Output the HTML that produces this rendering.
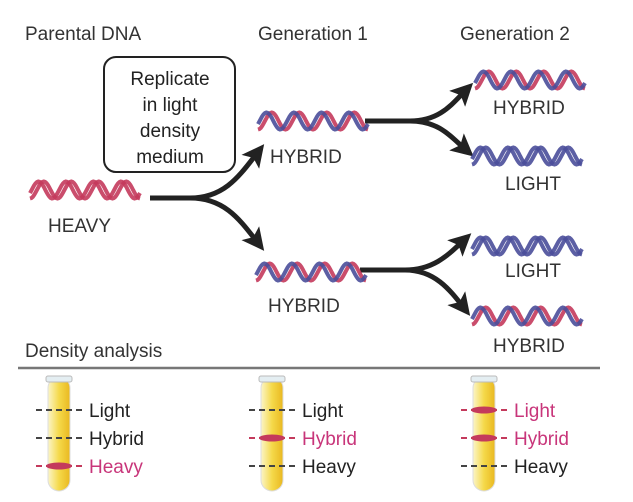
<!DOCTYPE html>
<html><head><meta charset="utf-8"><style>
body{margin:0;background:#fff;}
svg{display:block;font-family:"Liberation Sans",sans-serif;}
</style></head><body>
<svg id="s" width="633" height="502" viewBox="0 0 633 502">
<defs>
<linearGradient id="tg" x1="0" x2="1"><stop offset="0" stop-color="#fbf5c8"/><stop offset="0.5" stop-color="#f5d94a"/><stop offset="1" stop-color="#e9b820"/></linearGradient>
<marker id="ah" markerWidth="4.5" markerHeight="4.5" refX="2.5" refY="2.25" orient="auto" markerUnits="strokeWidth"><path d="M0,0 L4.5,2.25 L0,4.5 L1,2.25z" fill="#222"/></marker>
</defs>
<g font-size="19" fill="#333">
<text x="25" y="40">Parental DNA</text>
<text x="258" y="40">Generation 1</text>
<text x="460" y="40">Generation 2</text>
<text x="25" y="357">Density analysis</text>
<text x="48" y="232">HEAVY</text>
<text x="270" y="163">HYBRID</text>
<text x="268" y="312">HYBRID</text>
<text x="493" y="114">HYBRID</text>
<text x="505" y="190">LIGHT</text>
<text x="505" y="277">LIGHT</text>
<text x="493" y="352">HYBRID</text>
</g>
<rect x="104" y="57" width="131" height="115" rx="12" fill="#fff" stroke="#222" stroke-width="2"/>
<g font-size="19" fill="#222" text-anchor="middle">
<text x="170" y="85">Replicate</text>
<text x="170" y="111">in light</text>
<text x="170" y="137">density</text>
<text x="170" y="163">medium</text>
</g>
<g fill="none" stroke="#222" stroke-width="5">
<path d="M150,198 L190,198 C225,198 240,175 258,152" marker-end="url(#ah)"/>
<path d="M190,198 C225,198 240,220 258,243" marker-end="url(#ah)"/>
<path d="M365,121 L410,121 C440,121 452,104 466,90" marker-end="url(#ah)"/>
<path d="M410,121 C440,121 452,138 466,150" marker-end="url(#ah)"/>
<path d="M360,270 L405,270 C435,270 450,253 464,240" marker-end="url(#ah)"/>
<path d="M405,270 C435,270 450,290 464,308" marker-end="url(#ah)"/>
</g>
<line x1="18" y1="368" x2="600" y2="368" stroke="#777" stroke-width="2.5"/>
<g id="helix"></g>
<g id="tubes"></g>
</svg>
<script>
var R="#c43a5c",B="#4a4e9a",hx=document.getElementById('helix'),ns="http://www.w3.org/2000/svg";
function strand(x,y,w,h,ph,col){var d="";for(var i=0;i<=80;i++){var t=i/80,xx=x+t*w,yy=y+h/2+Math.cos(t*4*2*Math.PI+ph)*h/2*0.85;d+=(i?"L":"M")+xx.toFixed(1)+","+yy.toFixed(1);}var p=document.createElementNS(ns,"path");p.setAttribute("d",d);p.setAttribute("fill","none");p.setAttribute("stroke",col);p.setAttribute("stroke-width","4");p.setAttribute("opacity","0.9");hx.appendChild(p);}
function helix(x,y,a,b){strand(x,y,110,20,0,a);strand(x,y,110,20,1.2,b);}
helix(30,180,R,R);helix(258,111,R,B);helix(256,262,R,B);
helix(475,70,R,B);helix(472,146,B,B);helix(472,236,B,B);helix(472,306,R,B);
var tg=document.getElementById('tubes');
function tube(x,bands){var s='<rect x="'+x+'" y="377" width="22" height="114" rx="11" fill="url(#tg)" stroke="#ddd"/><rect x="'+(x-2)+'" y="376" width="26" height="6" rx="2" fill="#e4eef2" stroke="#bbb"/>';
var ys=[410,438,466],lab=["Light","Hybrid","Heavy"];for(var i=0;i<3;i++){var c=bands[i]?"#c43a5c":"#444";s+='<line x1="'+(x-12)+'" y1="'+ys[i]+'" x2="'+(x+38)+'" y2="'+ys[i]+'" stroke="'+c+'" stroke-width="2" stroke-dasharray="6,4"/>';if(bands[i])s+='<ellipse cx="'+(x+11)+'" cy="'+ys[i]+'" rx="13" ry="3.5" fill="#c43a5c"/>';s+='<text x="'+(x+41)+'" y="'+(ys[i]+7)+'" font-size="19" fill="'+(bands[i]?"#c8357a":"#222")+'">'+lab[i]+'</text>';}
tg.innerHTML+=s;}
tube(48,[0,0,1]);tube(261,[0,1,0]);tube(473,[1,1,0]);
</script>
</body></html>
